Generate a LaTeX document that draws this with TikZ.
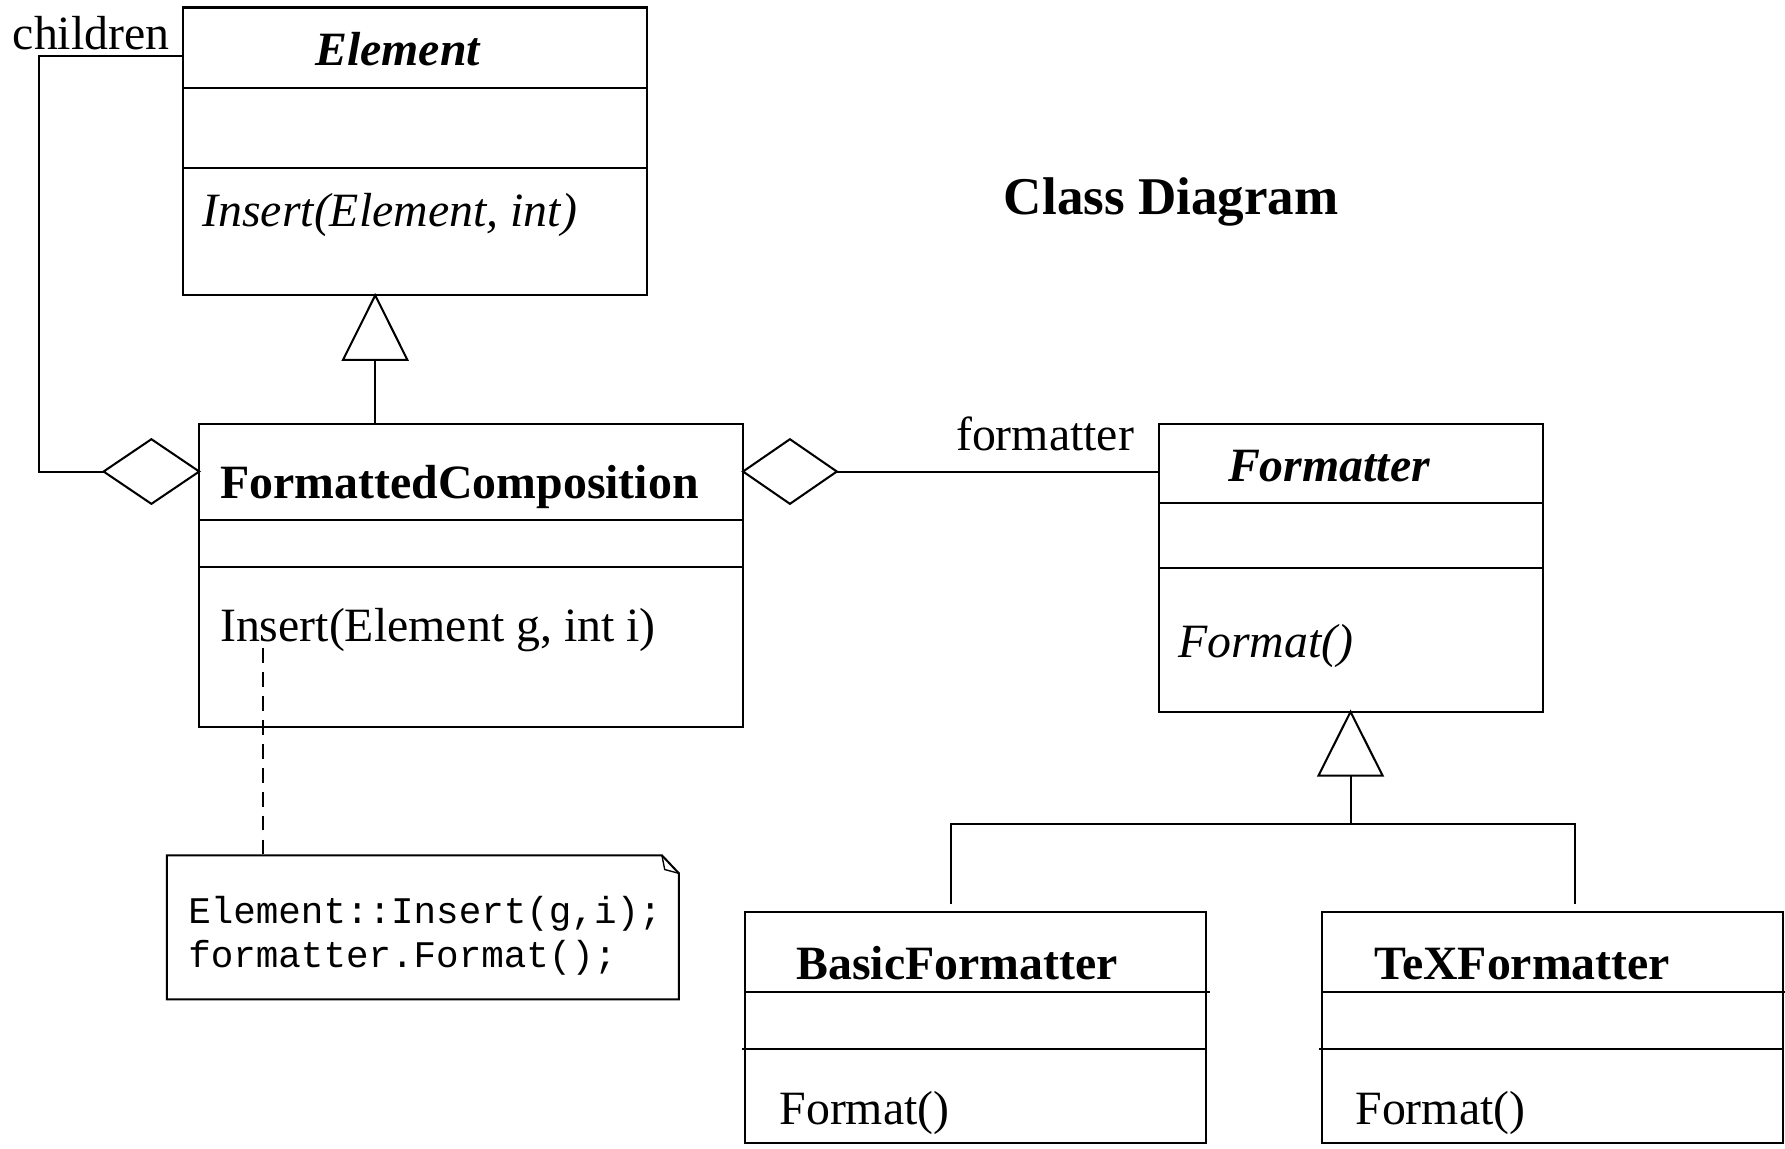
\documentclass[tikz,border=0pt]{standalone}
\usepackage{fontspec}
\setmainfont{Liberation Serif}
\newfontfamily\monof{Liberation Mono}
\usetikzlibrary{calc}
\begin{document}
\begin{tikzpicture}[x=1pt,y=-1pt,
  every path/.style={line width=1.8pt},
  classbox/.style={draw,line width=1.8pt,rectangle,inner sep=0pt,outer sep=0pt,anchor=north west},
  txt/.style={inner sep=0pt,anchor=base west,font=\fontsize{42}{50}\selectfont},
  btxt/.style={txt,font=\fontsize{42}{50}\selectfont\bfseries},
  bitxt/.style={txt,font=\fontsize{42}{50}\selectfont\bfseries\itshape},
  itxt/.style={txt,font=\fontsize{42}{50}\selectfont\itshape},
  mtxt/.style={inner sep=0pt,anchor=base west,font=\fontsize{33}{40}\monof},
  notelink/.style={dash pattern=on 13pt off 8pt}]
\useasboundingbox (0,0) rectangle (1568,1009);
% class boxes
\node[classbox,minimum width=407.8pt,minimum height=252.8pt] (elem) at (160.5,6.6) {};
\draw ($(elem.north west)+(0,70.7)$) -- ($(elem.north east)+(0,70.7)$);
\draw ($(elem.north west)+(0,140.7)$) -- ($(elem.north east)+(0,140.7)$);
\node[bitxt] (elemname) at (276,57.1) {Element};
\node[itxt] (elemop) at (177,199) {Insert(Element, int)};

\node[classbox,minimum width=477.7pt,minimum height=266.4pt] (fc) at (175,372.5) {};
\draw ($(fc.north west)+(0,84)$) -- ($(fc.north east)+(0,84)$);
\draw ($(fc.north west)+(0,125.9)$) -- ($(fc.north east)+(0,125.9)$);
\node[btxt] (fcname) at (192.9,437.7) {FormattedComposition};
\node[txt] (fcop) at (192.5,563.7) {Insert(Element g, int i)};

\node[classbox,minimum width=337.3pt,minimum height=252.7pt] (fmt) at (1017.7,372.5) {};
\draw ($(fmt.north west)+(0,69.6)$) -- ($(fmt.north east)+(0,69.6)$);
\draw ($(fmt.north west)+(0,126.7)$) -- ($(fmt.north east)+(0,126.7)$);
\node[bitxt] (fmtname) at (1077.8,423.1) {Formatter};
\node[itxt] (fmtop) at (1034,577.7) {Format()};

\node[classbox,minimum width=405.4pt,minimum height=202.5pt] (bf) at (654.3,801.5) {};
\draw ($(bf.north west)+(0,70)$) -- ($(bf.north east)+(3,70)$);
\draw ($(bf.north west)+(-2.5,120)$) -- ($(bf.north east)+(0,120)$);
\node[btxt] (bfname) at (698.6,860.3) {BasicFormatter};
\node[txt] (bfop) at (683.9,988.2) {Format()};

\node[classbox,minimum width=404.7pt,minimum height=202.5pt] (tex) at (1161.5,801.5) {};
\draw ($(tex.north west)+(0,70)$) -- ($(tex.north east)+(1.8,70)$);
\draw ($(tex.north west)+(-2.5,120)$) -- ($(tex.north east)+(0,120)$);
\node[btxt] (texname) at (1206.5,860.3) {TeXFormatter};
\node[txt] (texop) at (1189.8,988.2) {Format()};

% title
\node[inner sep=0pt,anchor=base west,font=\fontsize{46.6}{54}\selectfont\bfseries] (title) at (881,188) {Class Diagram};

% note
\node[inner sep=0pt,outer sep=0pt,anchor=north west,minimum width=449.9pt,minimum height=126.5pt] (note) at (146.5,751.3) {};
\draw (note.north west) -- ($(note.north east)+(-15,0)$) -- ($(note.north east)+(0,15.9)$) -- (note.south east) -- (note.south west) -- cycle;
\draw[line width=1.2pt] ($(note.north east)+(-15,0)$) -- ($(note.north east)+(-12.5,12.5)$) -- ($(note.north east)+(0,15.9)$);
\node[mtxt] (n1) at (164.5,811) {Element::Insert(g,i);};
\node[mtxt] (n2) at (164.5,849.5) {formatter.Format();};
\coordinate (nstart) at (231,569.5);
\draw[notelink] (nstart) -- (nstart |- note.north);

% roles
\node[txt] (children) at (10.4,43.3) {children};
\node[txt] (formatterrole) at (839,395.3) {formatter};

% children aggregation
\coordinate (dl) at ($(fc.north west)+(0,41.7)$);
\draw (dl) -- ++(-42,-28.4) -- ++(-42,28.4) -- ++(42,28.4) -- cycle;
\draw ($(dl)+(-84,0)$) -- (34.3,414.2) |- ($(elem.north west)+(0,42.6)$);

% formatter aggregation
\coordinate (dr) at ($(fc.north east)+(0,41.7)$);
\draw (dr) -- ++(41.2,-28.4) -- ++(41.2,28.4) -- ++(-41.2,28.4) -- cycle;
\draw ($(dr)+(82.4,0)$) -- (dr -| fmt.west);

% generalization Element <- FormattedComposition
\coordinate (ea) at ($(elem.south west)+(169.1,0)$);
\draw (ea) -- ++(-28.3,56.8) -- ++(56.6,0) -- cycle;
\draw ($(ea)+(0,56.8)$) -- (ea |- fc.north);

% generalization Formatter <- subclasses
\coordinate (fa) at (fmt.south);
\draw (fa) -- ++(-28.2,56.2) -- ++(56.4,0) -- cycle;
\coordinate (fb) at ($(fa)+(0,56.2)$);
\coordinate (fj) at ($(fb)+(0,42.2)$);
\draw (fb) -- (fj);
\draw ($(bf.north west)+(180.8,-7)$) |- (fj) -| ($(tex.north west)+(221.6,-7)$);
\end{tikzpicture}
\end{document}
